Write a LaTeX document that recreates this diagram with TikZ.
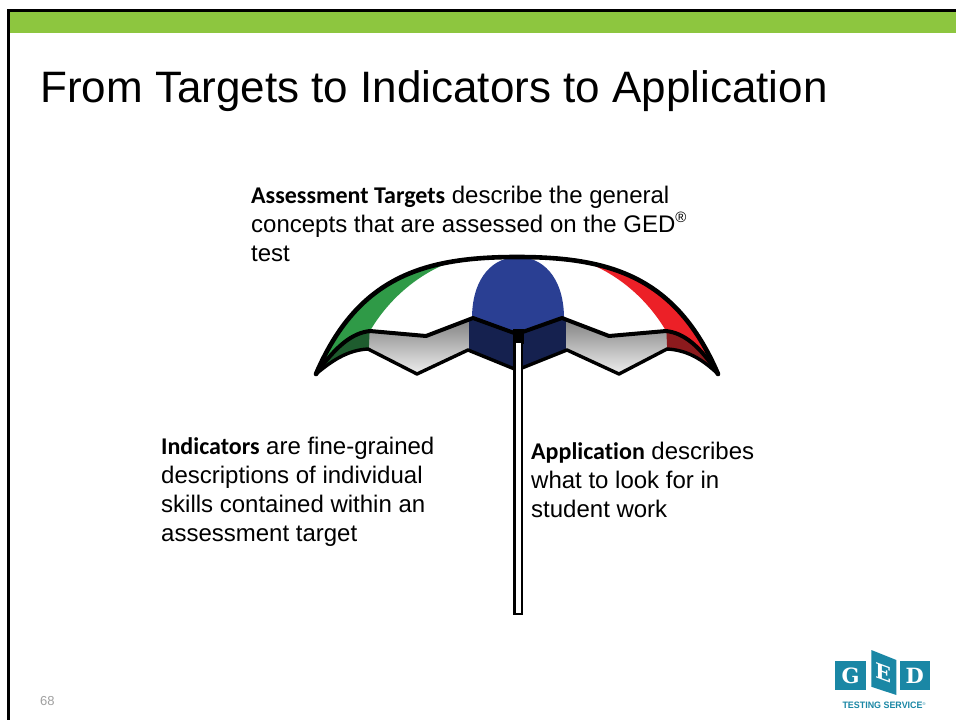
\documentclass[tikz,border=0pt]{standalone}
\usepackage{fontspec}
\usepackage{graphicx}
\setmainfont{Liberation Sans}
\newfontfamily\calfam{Carlito}[Ligatures={NoCommon,NoRequired,NoContextual}]
\newfontfamily\slabfam{DejaVu Serif}

\definecolor{barGreen}{HTML}{8DC63F}
\definecolor{capGreen}{HTML}{2F9A47}
\definecolor{capGreenDark}{HTML}{1E5C2E}
\definecolor{capBlue}{HTML}{2A3F93}
\definecolor{capBlueDark}{HTML}{15214F}
\definecolor{capRed}{HTML}{EC2027}
\definecolor{capRedDark}{HTML}{8C1A1D}
\definecolor{bandTop}{HTML}{7C7C7C}
\definecolor{bandBottom}{HTML}{F2F2F2}
\definecolor{pageNum}{HTML}{A0A0A0}
\definecolor{gedTeal}{HTML}{1A87A5}

\tikzset{
  bodytext/.style={anchor=base west, inner sep=0pt, font=\fontsize{24}{29}\selectfont},
  edge/.style={draw=black, line join=round, line cap=round},
  logobox/.style={fill=gedTeal, draw=none},
  logoletter/.style={inner sep=0pt, text=white, font=\slabfam\bfseries\fontsize{21}{21}\selectfont}
}

\begin{document}
\begin{tikzpicture}[x=1pt,y=-1pt]
\useasboundingbox (0,0) rectangle (956,720);
\fill[white] (0,0) rectangle (956,720);

% slide frame and header bar
\fill[barGreen] (10,11.7) rectangle (956,33.3);
\draw[line width=2.3pt] (7.3,10.5) -- (956,10.5);
\draw[line width=2.5pt] (8.6,9.3) -- (8.6,720);

% title
\node[anchor=base west, inner sep=0pt, font=\fontsize{44}{52}\selectfont] (title) at (40,102)
  {From Targets to Indicators to Application};

% ---- umbrella canopy, upper face ----
\begin{scope}
  \clip (316,374) .. controls (358,276) and (425,257) .. (517,257)
        .. controls (609,257) and (676,276) .. (718,374)
        .. controls (700,346) and (684,333) .. (666,331) -- (609,336) -- (562,318)
        -- (517,334) -- (473,318) -- (426,336) -- (370,331)
        .. controls (352,333) and (336,346) .. (316,374) -- cycle;
  \fill[white] (300,240) rectangle (740,390);
  % green panel
  \fill[capGreen] (370,331) .. controls (385,305) and (415,272) .. (462,258)
        -- (462,240) -- (300,240) -- (300,390) -- cycle;
  % red panel
  \fill[capRed] (666,331) .. controls (651,305) and (621,272) .. (574,258)
        -- (574,240) -- (740,240) -- (740,390) -- cycle;
  % blue panel
  \fill[capBlue] (472,340) -- (472,316) .. controls (473,276) and (494,257) .. (518,257)
        .. controls (542,257) and (563,276) .. (564,316) -- (564,340) -- cycle;
\end{scope}

% ---- umbrella canopy, underside band ----
\begin{scope}
  \clip (316,374) .. controls (336,346) and (352,333) .. (370,331) -- (426,336)
        -- (473,318) -- (517,334) -- (562,318) -- (609,336) -- (666,331)
        .. controls (684,333) and (700,346) .. (718,374)
        .. controls (701,358) and (686,350) .. (667,349) -- (619,374) -- (567,350)
        -- (517,370) -- (468,350) -- (417,374) -- (368,349)
        .. controls (350,350) and (335,358) .. (316,374) -- cycle;
  \shade[top color=bandTop, bottom color=bandBottom] (300,316) rectangle (740,376);
  \fill[capGreenDark] (300,300) -- (371,300) -- (367,390) -- (300,390) -- cycle;
  \fill[capBlueDark] (469,300) rectangle (566,390);
  \fill[capRedDark] (665,300) -- (740,300) -- (740,390) -- (669,390) -- cycle;
\end{scope}

% canopy outlines
\draw[edge, line width=4.6pt] (316,374) .. controls (358,276) and (425,257) .. (517,257)
      .. controls (609,257) and (676,276) .. (718,374);
\draw[edge, line width=4pt] (316,374) .. controls (336,346) and (352,333) .. (370,331)
      -- (426,336) -- (473,318) -- (517,334) -- (562,318) -- (609,336) -- (666,331)
      .. controls (684,333) and (700,346) .. (718,374);
\draw[edge, line width=3.4pt] (316,374) .. controls (335,358) and (350,350) .. (368,349)
      -- (417,374) -- (468,350) -- (517,370) -- (567,350) -- (619,374) -- (667,349)
      .. controls (686,350) and (701,358) .. (718,374);

% pole
\fill[black] (513,329) rectangle (523.5,344);
\draw[line width=2.4pt, fill=white] (514.6,342) rectangle (522.2,614);

% captions
\node[bodytext] (at1) at (251,203) {{\calfam\bfseries Assessment Targets} describe the general};
\node[bodytext] (at2) at (251,232) {concepts that are assessed on the GED\textsuperscript{\fontsize{15}{15}\selectfont ®}};
\node[bodytext] (at3) at (251,261) {test};

\node[bodytext] (in1) at (161,454) {{\calfam\bfseries Indicators} are fine-grained};
\node[bodytext] (in2) at (161,483) {descriptions of individual};
\node[bodytext] (in3) at (161,512) {skills contained within an};
\node[bodytext] (in4) at (161,541) {assessment target};

\node[bodytext] (ap1) at (531,459) {{\calfam\bfseries Application} describes};
\node[bodytext] (ap2) at (531,488) {what to look for in};
\node[bodytext] (ap3) at (531,517) {student work};

% page number
\node[anchor=base west, inner sep=0pt, text=pageNum, font=\fontsize{13}{15}\selectfont] (pnum) at (40,705) {68};

% logo
\fill[logobox] (834.7,661) rectangle (866.3,690);
\fill[logobox] (871.3,650) -- (896.3,660) -- (896.3,695) -- (871.3,686.7) -- cycle;
\fill[logobox] (899.7,661) rectangle (929.7,690);
\node[logoletter] (lg) at (850.5,675.5) {G};
\node[logoletter, yslant=-0.37, transform shape] (le) at (883.8,673) {E};
\node[logoletter] (ld) at (914.7,675.5) {D};
\node[inner sep=0pt, text=gedTeal] (lts) at (884,705)
  {\resizebox{80pt}{6.5pt}{\bfseries TESTING SERVICE}\raisebox{3pt}{\fontsize{4}{4}\selectfont ®}};
\end{tikzpicture}
\end{document}
